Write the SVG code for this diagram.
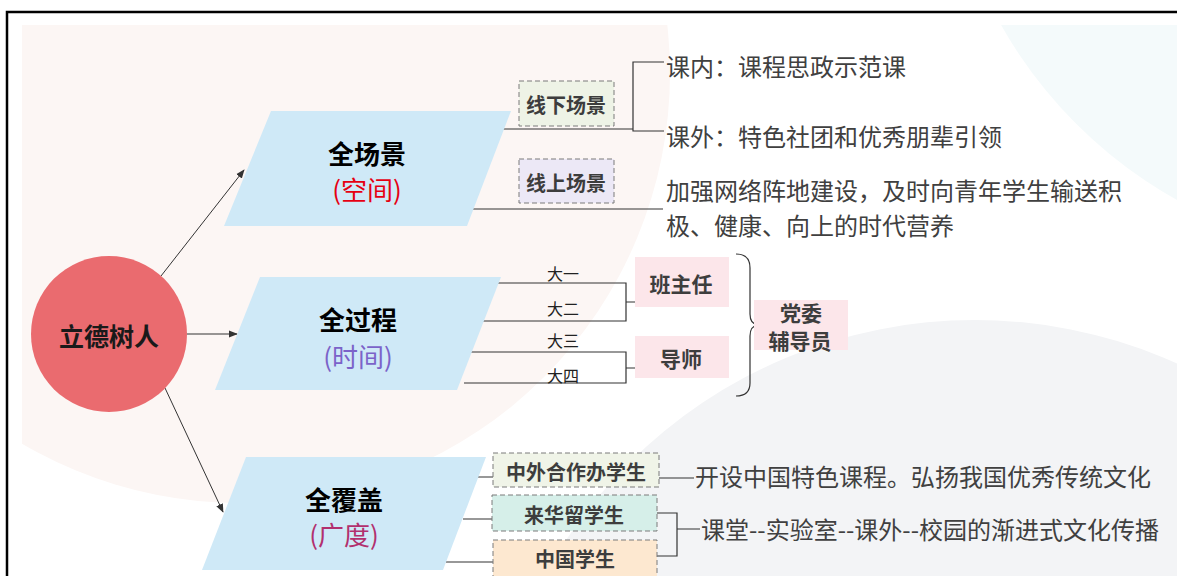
<svg xmlns="http://www.w3.org/2000/svg" width="1177" height="576" viewBox="0 0 1177 576">
<defs>
<clipPath id="canvas"><rect x="22" y="25" width="1160" height="560"/></clipPath>
<marker id="arr" viewBox="0 0 10 10" refX="9" refY="5" markerWidth="9" markerHeight="9" markerUnits="userSpaceOnUse" orient="auto"><path d="M0,1 L10,5 L0,9 Z" fill="#333"/></marker>
</defs>
<style>
text{font-family:"Noto Sans CJK SC","Noto Sans",sans-serif;dominant-baseline:central}
.t{font-size:24px;fill:#404040}
.title{font-size:26px;font-weight:bold;fill:#000;text-anchor:middle}
.sub{font-size:26px;text-anchor:middle}
.box{font-size:20px;font-weight:bold;fill:#3d3d3d;text-anchor:middle}
.yr{font-size:16px;fill:#222;text-anchor:middle}
.para{fill:#cfe9f7}
.dash{stroke:#7a7a7a;stroke-width:1;stroke-dasharray:5 3}
.ln{fill:none;stroke:#333;stroke-width:1.2}
.arrow{fill:none;stroke:#333;stroke-width:1;marker-end:url(#arr)}
.pink{fill:#fce6ea}
</style>
<rect width="1177" height="576" fill="#fff"/>
<g id="background" clip-path="url(#canvas)">
<circle cx="240" cy="73" r="430" fill="#fcf6f4"/>
<circle cx="975" cy="810" r="490" fill="#f3f4f6"/>
<circle cx="1400" cy="-200" r="458" fill="#f4fafb"/>
</g>
<rect x="7" y="12" width="1200" height="600" fill="none" stroke="#000" stroke-width="2.5"/>

<g id="connectors">
<path class="arrow" d="M161,276 L244,170"/>
<path class="arrow" d="M187,334 L237,334"/>
<path class="arrow" d="M165,388 L223,512"/>
<path class="ln" d="M503,129 H633 M664,62 H633 V131 H664"/>
<path class="ln" d="M471,209 H663"/>
<path class="ln" d="M497,283 H626 V321 H483 M626,302 H724"/>
<path class="ln" d="M471,352 H626 V383 H464 M626,368 H724"/>
<path class="ln" d="M736,254 Q750,254 750,268 V314 Q750,324 758,325 Q750,326 750,336 V383 Q750,396 736,396"/>
<path class="ln" d="M476,477 H493 M659,478 H694"/>
<path class="ln" d="M463,519 H492 M446,562 H493"/>
<path class="ln" d="M657,513 H677 V556 H657 M677,529 H700"/>
</g>

<g id="center">
<circle cx="109" cy="334" r="78" fill="#ea6b6f"/>
<text x="109" y="335" style="font-size:25px;font-weight:bold;fill:#1a1a1a;text-anchor:middle">立德树人</text>
</g>

<g id="space">
<polygon class="para" points="271,111 511,111 467,226 224,226"/>
<text class="title" x="367" y="152">全场景</text>
<text class="sub" x="367" y="188" fill="#e60012">(空间)</text>
</g>
<g id="time">
<polygon class="para" points="260,277 501,277 457,390 215,390"/>
<text class="title" x="358" y="318">全过程</text>
<text class="sub" x="358" y="355" fill="#7b63c9">(时间)</text>
</g>
<g id="cover">
<polygon class="para" points="246,457 486,457 443,570 202,570"/>
<text class="title" x="344" y="498">全覆盖</text>
<text class="sub" x="344" y="533" fill="#b2306e">(广度)</text>
</g>

<g id="offline">
<rect class="dash" x="519" y="81" width="95" height="45" fill="#eef3e6"/>
<text class="box" x="566" y="104">线下场景</text>
</g>
<g id="online">
<rect class="dash" x="519" y="159" width="95" height="44" fill="#ece8f6"/>
<text class="box" x="566" y="182">线上场景</text>
</g>
<g id="texts-top">
<text class="t" x="666" y="65">课内：课程思政示范课</text>
<text class="t" x="666" y="135">课外：特色社团和优秀朋辈引领</text>
<text class="t" x="666" y="189">加强网络阵地建设，及时向青年学生输送积</text>
<text class="t" x="666" y="224">极、健康、向上的时代营养</text>
</g>

<g id="years">
<text class="yr" x="563" y="273">大一</text>
<text class="yr" x="563" y="308">大二</text>
<text class="yr" x="563" y="340">大三</text>
<text class="yr" x="563" y="375">大四</text>
</g>
<g id="banzhuren">
<rect class="pink" x="635" y="257" width="94" height="50"/>
<text class="box" x="681" y="283" style="font-size:21px">班主任</text>
</g>
<g id="daoshi">
<rect class="pink" x="635" y="336" width="94" height="42"/>
<text class="box" x="681" y="358" style="font-size:21px">导师</text>
</g>
<g id="dangwei">
<rect class="pink" x="754" y="300" width="94" height="50"/>
<text class="box" x="801" y="312" style="font-size:21px">党委</text>
<text class="box" x="800" y="340" style="font-size:21px">辅导员</text>
</g>

<g id="zhongwai">
<rect class="dash" x="493" y="453" width="166" height="34" fill="#f0f4e8"/>
<text class="box" x="576" y="471">中外合作办学生</text>
</g>
<g id="laihua">
<rect class="dash" x="492" y="495" width="165" height="36" fill="#d6efe9"/>
<text class="box" x="574" y="514">来华留学生</text>
</g>
<g id="zhongguo">
<rect class="dash" x="493" y="540" width="164" height="40" fill="#fde8d0"/>
<text class="box" x="575" y="558">中国学生</text>
</g>
<g id="texts-bottom">
<text class="t" x="695" y="475">开设中国特色课程。弘扬我国优秀传统文化</text>
<text class="t" x="701" y="528">课堂--实验室--课外--校园的渐进式文化传播</text>
</g>
</svg>
